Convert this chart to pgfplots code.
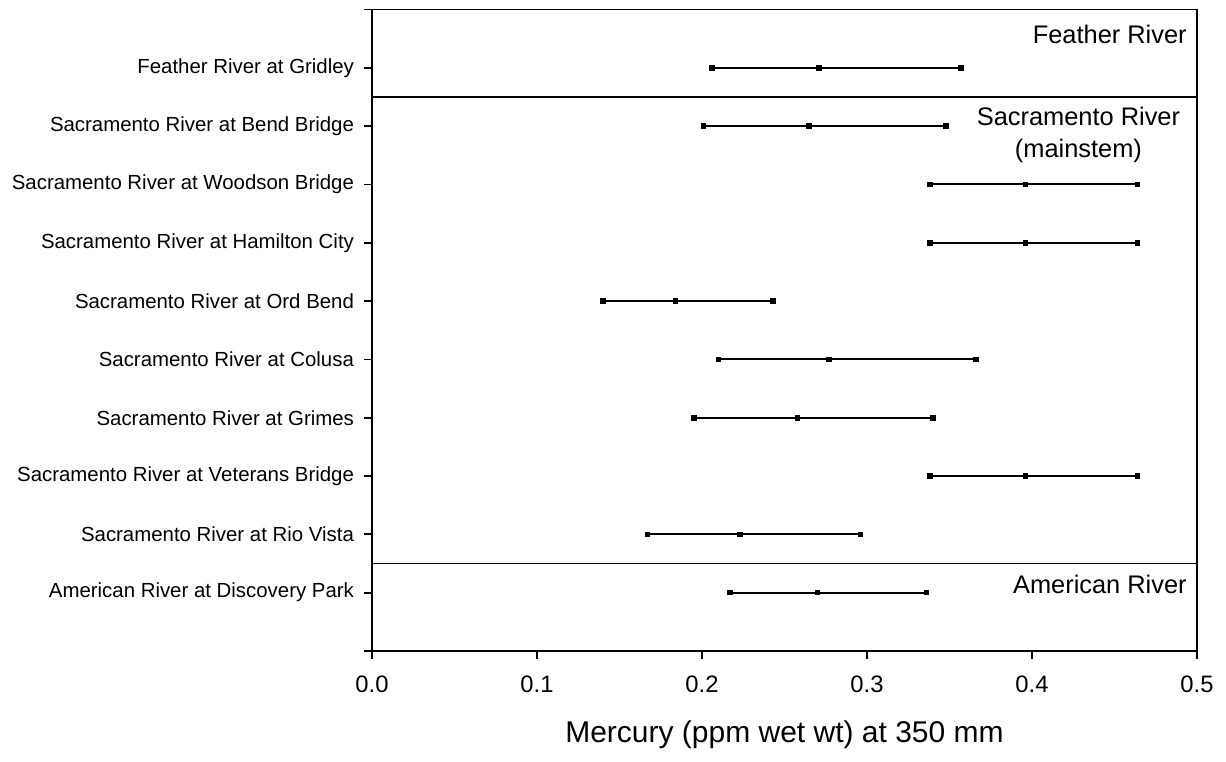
\documentclass[border=0pt]{standalone}
\usepackage{pgfplots}
\pgfplotsset{compat=1.18}
\usepackage{fontspec}
\setmainfont{Liberation Sans}
\pgfplotsset{eb/.style={black, solid, line width=1pt, mark=square*, mark size=1.15pt, mark options={solid, fill=black, line width=0.5pt}}}
\begin{document}
\begin{tikzpicture}
\useasboundingbox (-186pt,-55pt) rectangle (427pt,325.5pt);
\begin{axis}[
  scale only axis,
  width=412.5pt, height=320.75pt,
  xmin=0, xmax=0.5, ymin=0, ymax=11,
  y dir=reverse,
  axis line style={line width=0.9pt},
  xtick={0,0.1,0.2,0.3,0.4,0.5},
  xticklabels={0.0,0.1,0.2,0.3,0.4,0.5},
  ytick={0,1,2,3,4,5,6,7,8,9,10,11},
  yticklabels={{},
    Feather River at Gridley,
    Sacramento River at Bend Bridge,
    Sacramento River at Woodson Bridge,
    Sacramento River at Hamilton City,
    Sacramento River at Ord Bend,
    Sacramento River at Colusa,
    Sacramento River at Grimes,
    Sacramento River at Veterans Bridge,
    Sacramento River at Rio Vista,
    American River at Discovery Park,{}},
  tick align=outside,
  xtick pos=bottom, ytick pos=left,
  major tick length=4pt,
  tick style={line width=0.9pt, black},
  xticklabel style={font=\fontsize{11.9}{14}\selectfont, yshift=-5pt},
  yticklabel style={font=\fontsize{10.2}{12}\selectfont, xshift=-1.5pt},
  xlabel={Mercury (ppm wet wt) at 350 mm},
  xlabel style={font=\fontsize{15}{18}\selectfont, yshift=-7pt},
  clip=false,
]
\addplot[eb] coordinates {(0.206,1) (0.271,1) (0.357,1)};
\addplot[eb] coordinates {(0.201,2) (0.265,2) (0.348,2)};
\addplot[eb] coordinates {(0.338,3) (0.396,3) (0.464,3)};
\addplot[eb] coordinates {(0.338,4) (0.396,4) (0.464,4)};
\addplot[eb] coordinates {(0.140,5) (0.184,5) (0.243,5)};
\addplot[eb] coordinates {(0.210,6) (0.277,6) (0.366,6)};
\addplot[eb] coordinates {(0.195,7) (0.258,7) (0.340,7)};
\addplot[eb] coordinates {(0.338,8) (0.396,8) (0.464,8)};
\addplot[eb] coordinates {(0.167,9) (0.223,9) (0.296,9)};
\addplot[eb] coordinates {(0.217,10) (0.270,10) (0.336,10)};
\draw[line width=0.9pt] (axis cs:0,1.5) -- (axis cs:0.5,1.5);
\draw[line width=0.9pt] (axis cs:0,9.5) -- (axis cs:0.5,9.5);
\node[anchor=north east, inner sep=0pt, font=\fontsize{12.7}{15}\selectfont] at (axis cs:0.494,0.26) {Feather River};
\node[anchor=north east, inner sep=0pt, align=center, font=\fontsize{12.7}{16}\selectfont] at (axis cs:0.490,1.66) {Sacramento River\\(mainstem)};
\node[anchor=north east, inner sep=0pt, font=\fontsize{12.7}{15}\selectfont] at (axis cs:0.494,9.69) {American River};
\end{axis}
\end{tikzpicture}
\end{document}
